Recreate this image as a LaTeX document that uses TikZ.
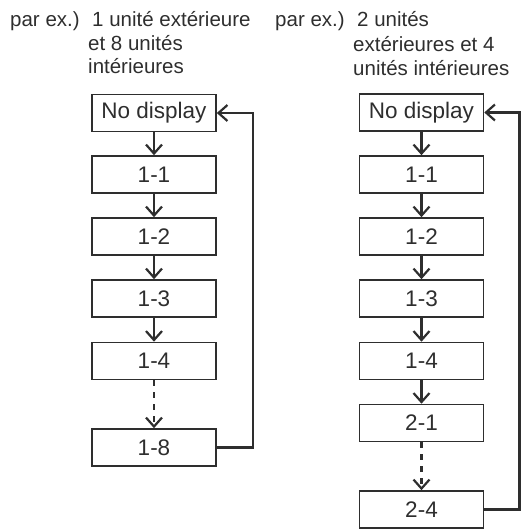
\documentclass[tikz,border=0pt]{standalone}
\usepackage{fontspec}
\setmainfont{Liberation Sans}
\usetikzlibrary{arrows.meta}
\definecolor{ink}{HTML}{2E2E2E}
\tikzset{
  box/.style={draw=ink, line width=1.6pt, minimum width=124pt, minimum height=37pt, inner sep=0pt,
    font=\fontsize{22.5}{22.5}\selectfont, text=ink},
  lab/.style={anchor=base west, inner sep=0pt, font=\fontsize{20.5}{20.5}\selectfont, text=ink},
  flow/.style={draw=ink, line width=2.2pt, -{Straight Barb[width=16pt,length=9pt,line width=2.2pt]}},
  dflow/.style={flow, dash pattern=on 6pt off 6pt}
}
\begin{document}
\begin{tikzpicture}[x=1pt,y=-1pt]
\useasboundingbox (0,0) rectangle (521,529);
% left labels
\node[lab] (l1a) at (10,27) {par ex.)};
\node[lab] (l1b) at (92,27) {1 unité extérieure};
\node[lab] (l1c) at (88,51) {et 8 unités};
\node[lab] (l1d) at (88,74) {intérieures};
% right labels
\node[lab] (r1a) at (275,27) {par ex.)};
\node[lab] (r1b) at (357,27) {2 unités};
\node[lab] (r1c) at (353,52) {extérieures et 4};
\node[lab] (r1d) at (353,76) {unités intérieures};
% left column
\node[box] (a0) at (154,113) {No display};
\node[box] (a1) at (154,174.5) {1-1};
\node[box] (a2) at (154,236.5) {1-2};
\node[box] (a3) at (154,298.5) {1-3};
\node[box] (a4) at (154,361) {1-4};
\node[box] (a8) at (154,447.5) {1-8};
\draw[flow] (a0) -- (a1);
\draw[flow] (a1) -- (a2);
\draw[flow] (a2) -- (a3);
\draw[flow] (a3) -- (a4);
\draw[dflow] (a4) -- (a8);
\coordinate (ca) at (253,0);
\draw[flow] (a8.east) -- (a8.east -| ca) -- (a0.east -| ca) -- (a0.east);
% right column
\node[box] (b0) at (421.5,112.5) {No display};
\node[box] (b1) at (421.5,174.5) {1-1};
\node[box] (b2) at (421.5,236.5) {1-2};
\node[box] (b3) at (421.5,298.5) {1-3};
\node[box] (b4) at (421.5,361) {1-4};
\node[box] (b5) at (421.5,423) {2-1};
\node[box] (b8) at (421.5,509.5) {2-4};
\draw[flow] (b0) -- (b1);
\draw[flow] (b1) -- (b2);
\draw[flow] (b2) -- (b3);
\draw[flow] (b3) -- (b4);
\draw[flow] (b4) -- (b5);
\draw[dflow] (b5) -- (b8);
\coordinate (cb) at (519.5,0);
\draw[flow] (b8.east) -- (b8.east -| cb) -- (b0.east -| cb) -- (b0.east);
\end{tikzpicture}
\end{document}
